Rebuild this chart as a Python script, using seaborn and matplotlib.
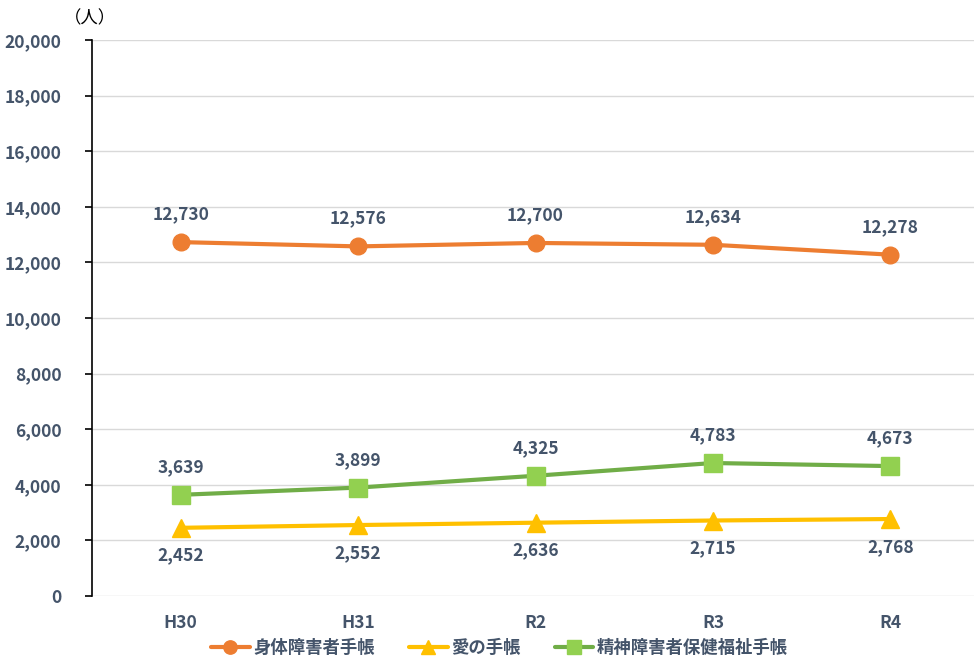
import numpy as np
import pandas as pd
import seaborn as sns
import matplotlib.pyplot as plt

years = ["H30", "H31", "R2", "R3", "R4"]
shintai = [12730, 12576, 12700, 12634, 12278]
ai = [2452, 2552, 2636, 2715, 2768]
seishin = [3639, 3899, 4325, 4783, 4673]
names = ["身体障害者手帳", "愛の手帳", "精神障害者保健福祉手帳"]

df = pd.DataFrame({"year": years * 3,
                   "count": shintai + ai + seishin,
                   "kind": [names[0]] * 5 + [names[1]] * 5 + [names[2]] * 5})

sns.set_theme(style="white")
plt.rcParams['font.family'] = ['Noto Sans CJK JP', 'DejaVu Sans']
txt = "#44546A"

fig = plt.figure(figsize=(9.74, 6.65), dpi=100)
# plot area runs slightly past the right edge, as in the original
ax = fig.add_axes([0.0945, 0.1038, 0.9107, 0.836])

styles = {
    names[0]: dict(color="#ED7D31", marker="o", mfc="#ED7D31", mec="#ED7D31", ms=12),
    names[1]: dict(color="#FFC000", marker="^", mfc="#FFC000", mec="#FFC000", ms=13),
    names[2]: dict(color="#70AD47", marker="s", mfc="#92D050", mec="#92D050", ms=13),
}
for name in names:
    st = styles[name]
    sub = df[df["kind"] == name]
    sns.lineplot(data=sub, x="year", y="count", ax=ax, label=name, sort=False,
                 color=st["color"], lw=3, marker=st["marker"], markersize=st["ms"],
                 markerfacecolor=st["mfc"], markeredgecolor=st["mec"],
                 markeredgewidth=1, zorder=3)

# data labels
for vals, off in [(shintai, 20), (seishin, 20), (ai, -20)]:
    for i, v in enumerate(vals):
        ax.annotate(f"{v:,}", (i, v), xytext=(0, off), textcoords="offset points",
                    ha="center", va="center", fontsize=12.5, fontweight="bold", color=txt)

ax.set_ylim(0, 20000)
ax.set_xlim(-0.5, 4.5)
ax.set_yticks(np.arange(0, 20001, 2000))
ax.yaxis.set_major_formatter(plt.FuncFormatter(lambda v, p: f"{int(v):,}"))
ax.grid(axis="y", color="#D9D9D9", lw=1)
ax.set_axisbelow(True)
for s in ["top", "right", "bottom"]:
    ax.spines[s].set_visible(False)
ax.spines["left"].set_color("black")
ax.spines["left"].set_linewidth(1.2)
ax.tick_params(axis="y", left=True, length=5, width=1.2, color="black",
               labelsize=12.5, labelcolor=txt, pad=17)
ax.tick_params(axis="x", bottom=False, labelsize=12.5, labelcolor=txt, pad=7)
for lab in ax.get_yticklabels() + ax.get_xticklabels():
    lab.set_fontweight("bold")
ax.set_xlabel("")
ax.set_ylabel("")

fig.text(0.092, 0.972, "（人）", ha="center", va="center", fontsize=12.5, color="black")

leg = ax.legend(loc="center", bbox_to_anchor=(0.513, 0.025), bbox_transform=fig.transFigure,
                ncol=3, frameon=False, fontsize=12.5, handlelength=2.2, markerscale=0.8,
                columnspacing=2.0, handletextpad=0.2, borderaxespad=0, borderpad=0)
for t in leg.get_texts():
    t.set_color(txt)
    t.set_fontweight("bold")

fig.savefig("out.png", dpi=100)
